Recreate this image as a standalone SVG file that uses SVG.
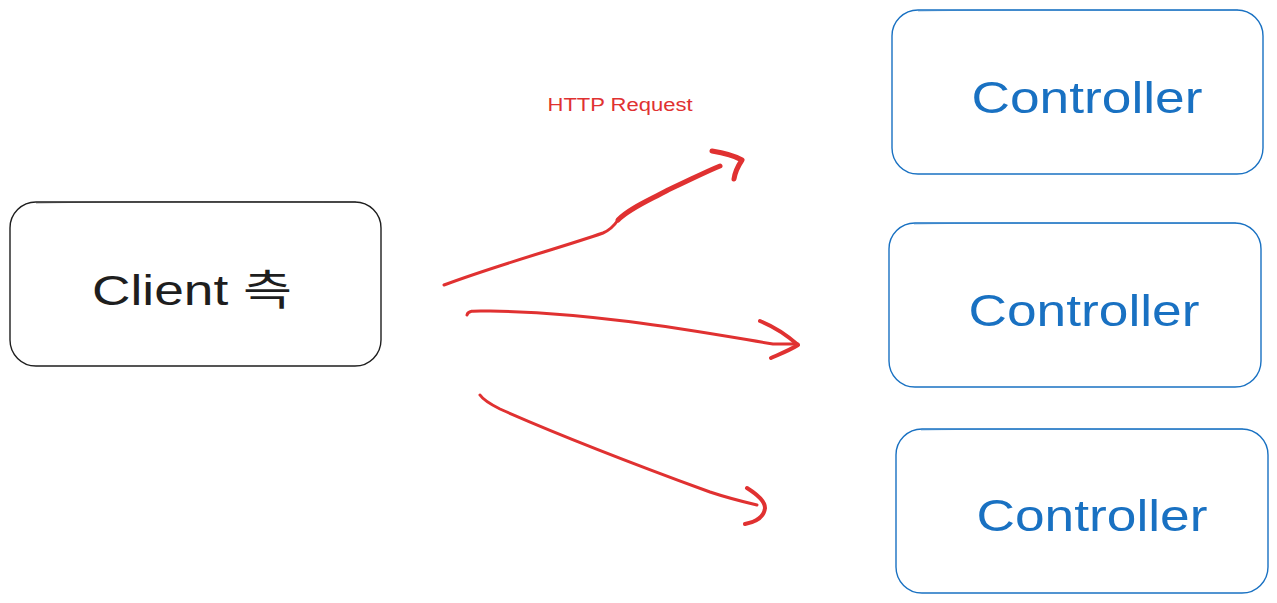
<svg xmlns="http://www.w3.org/2000/svg" width="1277" height="603" viewBox="0 0 1277 603">
<style>
.box{fill:#ffffff;stroke-width:1.4}
.blk{stroke:#1e1e1e}
.blu{stroke:#1971c2}
.lbl{font-family:"Liberation Sans","Noto Sans CJK KR",sans-serif;text-anchor:middle}
.ctl{fill:#1971c2;font-size:44px}
.arr{fill:none;stroke:#e03131;stroke-linecap:round;stroke-linejoin:round}
</style>
<rect width="1277" height="603" fill="#ffffff"/>
<g id="client">
<rect class="box blk" x="10" y="202" width="371" height="164" rx="26"/>
<path d="M36 203 C150 201 260 202 356 202" fill="none" stroke="#1e1e1e" stroke-width="0.8" opacity="0.6"/>
<text class="lbl" x="192" y="305" font-size="42" fill="#1e1e1e" textLength="200" lengthAdjust="spacingAndGlyphs">Client 측</text>
</g>
<g id="controller1">
<rect class="box blu" x="892" y="10" width="371" height="164" rx="26"/>
<path d="M918 11 C1020 9 1150 11 1238 10" fill="none" stroke="#1971c2" stroke-width="0.8" opacity="0.6"/>
<text class="lbl ctl" x="1087" y="113" textLength="231" lengthAdjust="spacingAndGlyphs">Controller</text>
</g>
<g id="controller2">
<rect class="box blu" x="889" y="223" width="372" height="164" rx="26"/>
<path d="M914 224 C1020 222 1150 224 1236 223" fill="none" stroke="#1971c2" stroke-width="0.8" opacity="0.6"/>
<text class="lbl ctl" x="1084" y="326" textLength="231" lengthAdjust="spacingAndGlyphs">Controller</text>
</g>
<g id="controller3">
<rect class="box blu" x="896" y="429" width="372" height="164" rx="26"/>
<path d="M921 430 C1030 428 1160 430 1243 429" fill="none" stroke="#1971c2" stroke-width="0.8" opacity="0.6"/>
<text class="lbl ctl" x="1092" y="531" textLength="231" lengthAdjust="spacingAndGlyphs">Controller</text>
</g>
<g id="connectors">
<path class="arr" stroke-width="3" d="M444 285 C500 264 560 248 603 233 C610 230 614 226 618 220"/>
<path class="arr" stroke-width="5" d="M618 220 C630 208 650 200 668 190 C690 180 705 172 720 166"/>
<path class="arr" stroke-width="5" d="M712 151 C725 153 735 156 742 160 C738 166 735 172 734 179"/>
<path class="arr" stroke-width="3" d="M467 315 C468 310 475 311 490 311 C600 313 700 332 773 344 L798 344"/>
<path class="arr" stroke-width="4" d="M760 321 C775 327 788 336 798 345 C790 350 780 354 771 358"/>
<path class="arr" stroke-width="3" d="M480 395 C484 401 492 405 500 409 C570 440 650 470 710 492 C725 497 740 501 757 505"/>
<path class="arr" stroke-width="4" d="M747 488 C755 493 765 500 765 508 C764 517 755 522 745 524"/>
<text class="lbl" x="620" y="111" font-size="18" fill="#e03131" textLength="145" lengthAdjust="spacingAndGlyphs">HTTP Request</text>
</g>
</svg>
